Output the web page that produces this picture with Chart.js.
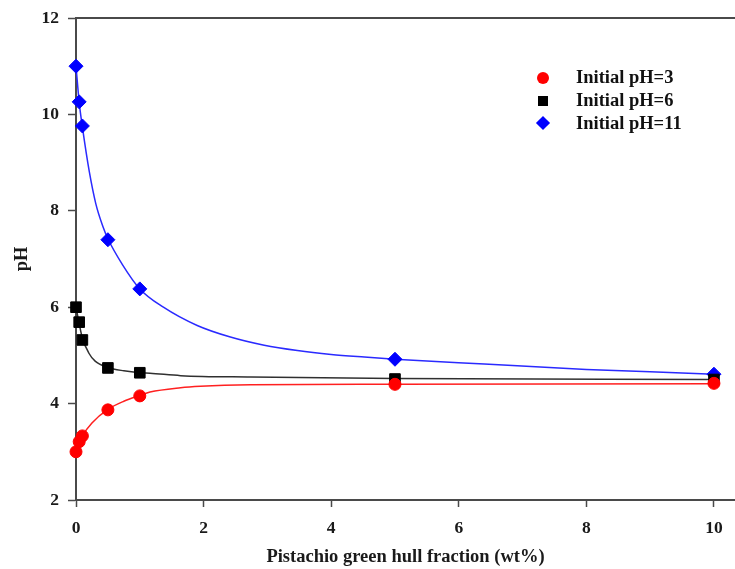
<!DOCTYPE html>
<html>
<head>
<meta charset="utf-8">
<script src="https://cdn.jsdelivr.net/npm/chart.js@4.4.1/dist/chart.umd.min.js"></script>
<style>
  html, body { margin: 0; padding: 0; background: #fff; }
  #wrap { position: relative; width: 735px; height: 569px; }
  #legend { position: absolute; left: 536px; top: 66.5px; font: bold 18.5px "Liberation Serif", serif; color: #111; }
  .row { height: 22.7px; display: flex; align-items: center; }
  .mk { width: 14px; height: 14px; margin-right: 26px; display: flex; align-items: center; justify-content: center; }
  .circle { width: 12px; height: 12px; border-radius: 50%; }
  .rect { width: 10px; height: 10px; }
  .rectRot { width: 10px; height: 10px; transform: rotate(45deg); }
</style>
</head>
<body>
<div id="wrap">
  <canvas id="myChart" width="735" height="569"></canvas>
  <div id="legend"></div>
</div>
<script>
// measured points
const fraction = [0, 0.05, 0.1, 0.5, 1, 5, 10];
const ph3 = [3.0, 3.21, 3.33, 3.87, 4.16, 4.40, 4.42];
const ph6 = [6.0, 5.69, 5.32, 4.74, 4.64, 4.51, 4.50];
const ph11 = [11.0, 10.26, 9.76, 7.40, 6.38, 4.92, 4.61];

// fitted curves
const fitX3 = [0, 0.05, 0.1, 0.25, 0.5, 0.75, 1, 1.16, 1.64, 1.95, 2.74, 5, 10];
const fit3 = [3.0, 3.18, 3.33, 3.6, 3.88, 4.05, 4.17, 4.24, 4.33, 4.36, 4.39, 4.40, 4.41];
const fitX6 = [0, 0.05, 0.1, 0.2, 0.3, 0.5, 0.75, 1, 1.16, 1.64, 2.74, 5, 10];
const fit6 = [6.0, 5.66, 5.36, 5.05, 4.88, 4.75, 4.68, 4.64, 4.63, 4.58, 4.55, 4.52, 4.50];
const fitX11 = [0, 0.05, 0.1, 0.21, 0.31, 0.42, 0.5, 0.73, 1, 1.37, 1.9, 2.42, 2.95, 3.47, 4, 4.52, 5, 6.4, 8, 9, 10];
const fit11 = [11.0, 10.25, 9.74, 8.8, 8.15, 7.68, 7.42, 6.88, 6.38, 6.0, 5.62, 5.38, 5.21, 5.1, 5.02, 4.965, 4.92, 4.82, 4.71, 4.66, 4.61];

const xTicks = [0, 2, 4, 6, 8, 10];
const labels = ["Initial pH=3", "Initial pH=6", "Initial pH=11"];

const pts = (xs, ys) => xs.map((x, i) => ({ x: x, y: ys[i] }));

const series = [
  { label: labels[0], data: ph3, fitX: fitX3, fit: fit3, color: "#ff0000", line: "#ff2020", style: "circle", r: 6 },
  { label: labels[1], data: ph6, fitX: fitX6, fit: fit6, color: "#000000", line: "#303030", style: "rect", r: 7.5 },
  { label: labels[2], data: ph11, fitX: fitX11, fit: fit11, color: "#0000ff", line: "#2a2aff", style: "rectRot", r: 7 },
];

const datasets = [];
series.forEach((s) => {
  datasets.push({
    type: "line",
    data: pts(s.fitX, s.fit),
    borderColor: s.line,
    borderWidth: 1.5,
    pointRadius: 0,
    cubicInterpolationMode: "monotone",
    fill: false,
    clip: false,
    order: 2,
  });
});
series.forEach((s) => {
  datasets.push({
    type: "scatter",
    label: s.label,
    data: pts(fraction, s.data),
    backgroundColor: s.color,
    borderColor: s.color,
    borderWidth: 1,
    pointStyle: s.style,
    pointRadius: s.r,
    clip: false,
    order: 1,
  });
});

const serif = "'Liberation Serif', serif";
const tickFont = { family: serif, size: 17.5, weight: "bold" };
const axisColor = "#4a4a4a";

const config = {
  type: "scatter",
  data: { datasets: datasets },
  options: {
    responsive: false,
    animation: false,
    layout: { autoPadding: false, padding: { top: 18, right: 0, left: 0, bottom: 0 } },
    plugins: { legend: { display: false }, tooltip: { enabled: false } },
    scales: {
      x: {
        type: "linear",
        position: "bottom",
        min: 0,
        max: 10.33,
        afterBuildTicks: (scale) => { scale.ticks = xTicks.map((v) => ({ value: v })); },
        afterFit: (scale) => { scale.height = 69; scale.paddingRight = 0; scale.paddingLeft = 0; },
        grid: { drawOnChartArea: false, drawTicks: true, tickLength: 7, tickColor: axisColor, tickWidth: 1.5 },
        border: { color: axisColor, width: 2 },
        ticks: { font: tickFont, color: "#1a1a1a", padding: 11, maxRotation: 0 },
        title: {
          display: true,
          text: "Pistachio green hull fraction (wt%)",
          font: { family: serif, size: 18.5, weight: "bold" },
          color: "#1a1a1a",
          padding: { top: 4, bottom: 1 },
        },
      },
      xTop: {
        type: "linear",
        position: "top",
        min: 0,
        max: 10.33,
        afterFit: (scale) => { scale.height = 0; scale.paddingRight = 0; scale.paddingLeft = 0; },
        grid: { drawOnChartArea: false, drawTicks: false },
        border: { color: axisColor, width: 2 },
        ticks: { display: false },
      },
      y: {
        min: 2,
        max: 12,
        afterFit: (scale) => { scale.width = 76; scale.paddingTop = 0; scale.paddingBottom = 0; },
        grid: { drawOnChartArea: false, drawTicks: true, tickLength: 8, tickColor: axisColor, tickWidth: 1.5 },
        border: { color: axisColor, width: 2 },
        ticks: { stepSize: 2, font: tickFont, color: "#1a1a1a", padding: 9 },
        title: {
          display: true,
          text: "pH",
          font: { family: serif, size: 18.5, weight: "bold" },
          color: "#1a1a1a",
          padding: { top: 11, bottom: 0 },
        },
      },
    },
  },
};

myChart = new Chart("myChart", config);

// legend in the top right corner of the plot
const legend = document.getElementById("legend");
series.forEach((s) => {
  const row = document.createElement("div");
  row.className = "row";
  const mk = document.createElement("div");
  mk.className = "mk";
  const shape = document.createElement("div");
  shape.className = s.style;
  shape.style.background = s.color;
  mk.appendChild(shape);
  const txt = document.createElement("span");
  txt.textContent = s.label;
  row.appendChild(mk);
  row.appendChild(txt);
  legend.appendChild(row);
});
</script>
</body>
</html>
